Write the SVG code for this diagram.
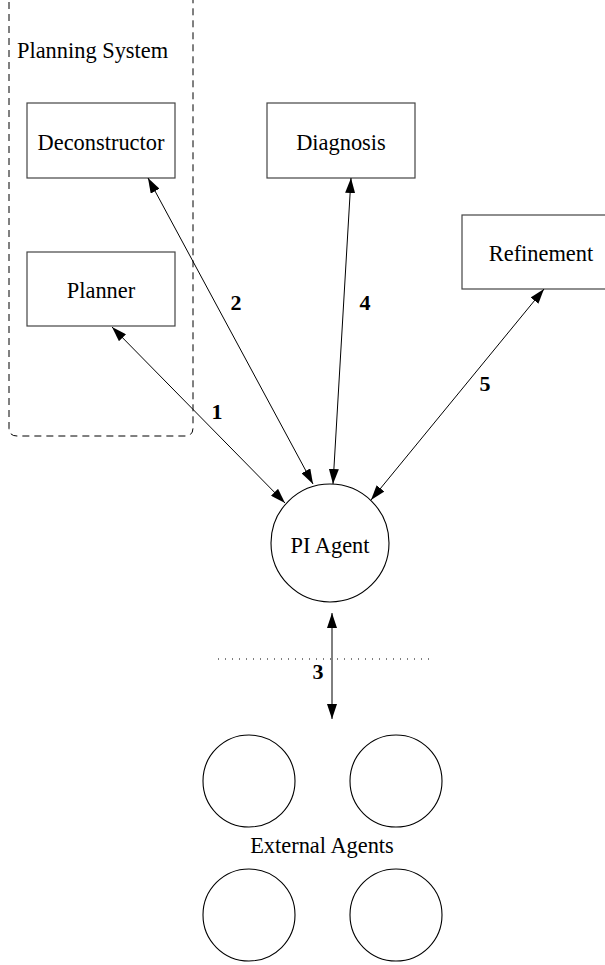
<svg xmlns="http://www.w3.org/2000/svg" width="605" height="965" viewBox="0 0 605 965">
<style>
text{font-family:"Liberation Serif","Times New Roman",serif;font-size:22.4px;fill:#000}
.lbl{text-anchor:middle}
.num{font-weight:bold;text-anchor:middle;font-size:22px}
.box{fill:#fff;stroke:#444;stroke-width:1.2}
.circ{fill:#fff;stroke:#000;stroke-width:1.1}
.con{stroke:#000;stroke-width:1;fill:none;marker-start:url(#ah);marker-end:url(#ah)}
</style>
<defs>
<marker id="ah" markerUnits="userSpaceOnUse" markerWidth="16" markerHeight="10" refX="15" refY="5" orient="auto-start-reverse" viewBox="0 0 16 10">
<path d="M0,0 L15,5 L0,10 Z" fill="#000"/>
</marker>
</defs>
<g id="planning-system">
<path d="M9,-10 L9,428 Q9,436 17,436 L185,436 Q193,436 193,428 L193,-10" fill="none" stroke="#000" stroke-width="1" stroke-dasharray="7,5"/>
<text x="17" y="58">Planning System</text>
</g>
<g id="deconstructor"><rect class="box" x="27" y="103" width="148" height="75"/><text class="lbl" x="101" y="150">Deconstructor</text></g>
<g id="planner"><rect class="box" x="27" y="252" width="148" height="74"/><text class="lbl" x="101" y="298">Planner</text></g>
<g id="diagnosis"><rect class="box" x="267" y="103" width="148" height="75"/><text class="lbl" x="341" y="150">Diagnosis</text></g>
<g id="refinement"><rect class="box" x="462" y="215" width="150" height="74"/><text class="lbl" x="541" y="261">Refinement</text></g>
<g id="pi-agent"><circle class="circ" cx="330" cy="543" r="59"/><text class="lbl" x="330" y="553">PI Agent</text></g>
<g id="boundary"><line x1="218" y1="659" x2="432" y2="659" stroke="#000" stroke-width="1" stroke-dasharray="1,6"/></g>
<g id="external-agents">
<circle class="circ" cx="249" cy="781" r="46"/>
<circle class="circ" cx="396" cy="781" r="46"/>
<circle class="circ" cx="249" cy="915" r="46"/>
<circle class="circ" cx="396" cy="915" r="46"/>
<text class="lbl" x="322" y="853">External Agents</text>
</g>
<g id="connectors">
<line class="con" x1="112" y1="327" x2="285" y2="503"/>
<line class="con" x1="148" y1="178" x2="313" y2="484"/>
<line class="con" x1="351" y1="178" x2="333" y2="484"/>
<line class="con" x1="544" y1="289" x2="371" y2="500"/>
<line class="con" x1="332" y1="613" x2="332" y2="719"/>
<text class="num" x="217" y="419">1</text>
<text class="num" x="236" y="310">2</text>
<text class="num" x="318" y="679">3</text>
<text class="num" x="365" y="310">4</text>
<text class="num" x="485" y="391">5</text>
</g>
</svg>
